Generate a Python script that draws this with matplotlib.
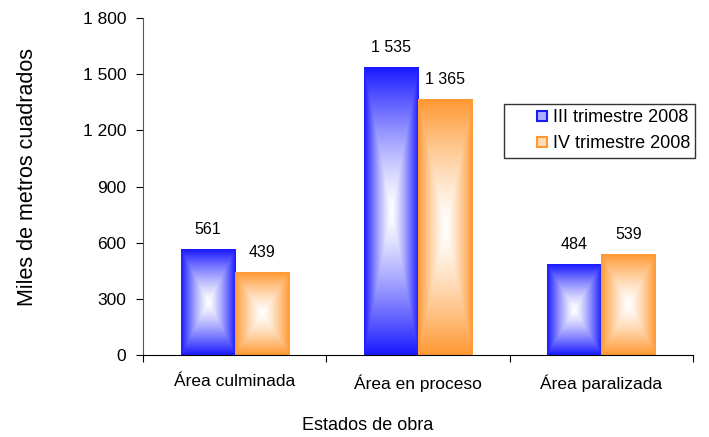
import numpy as np
import matplotlib
matplotlib.use("Agg")
import matplotlib.pyplot as plt
from matplotlib.lines import Line2D
from matplotlib.colors import to_rgb

plt.rcParams['font.family'] = ['Liberation Sans', 'DejaVu Sans']

# data
categories = ['Área culminada', 'Área en proceso', 'Área paralizada']
series_names = ['III trimestre 2008', 'IV trimestre 2008']
iii_2008 = [561, 1535, 484]
iv_2008 = [439, 1365, 539]
colors = ['#1a1aff', '#ff9933']
yticks = [0, 300, 600, 900, 1200, 1500, 1800]
ytick_labels = ['0', '300', '600', '900', '1 200', '1 500', '1 800']


def fmt(v):
    return '{:,}'.format(v).replace(',', ' ')


def box_gradient(color, n=120):
    # rectangular "from centre" gradient: white in the middle, colour at the edges
    u = np.linspace(-1, 1, n)
    uu, vv = np.meshgrid(u, u)
    t = np.maximum(np.abs(uu), np.abs(vv)) ** 1.3
    c = np.array(to_rgb(color))
    img = (1 - t)[..., None] * np.ones(3) + t[..., None] * c
    return img


fig = plt.figure(figsize=(7.09, 4.37), dpi=100)
ax = fig.add_axes([0.2017, 0.1876, 0.7757, 0.7712])

x = np.arange(len(categories))
w = 0.295
for i, (vals, col) in enumerate(zip([iii_2008, iv_2008], colors)):
    bars = ax.bar(x + (i - 0.5) * w, vals, w, color='none', edgecolor='none')
    img = box_gradient(col)
    for b, v in zip(bars, vals):
        bx, by = b.get_x(), b.get_y()
        ax.imshow(img, extent=[bx, bx + b.get_width(), by, by + b.get_height()],
                  aspect='auto', interpolation='bilinear', zorder=2)
        ax.annotate(fmt(v), (bx + b.get_width() / 2, v), xytext=(0, 9),
                    textcoords='offset points', ha='center', va='bottom',
                    fontsize=11.5)

ax.set_xlim(-0.5, 2.5)
ax.set_ylim(0, 1800)

ax.set_yticks(yticks)
ax.set_yticklabels(ytick_labels, fontsize=12.5)
ax.tick_params(axis='y', direction='out', length=5, width=0.8, pad=7)

ax.set_xticks(x)
ax.set_xticklabels(categories, fontsize=12.5)
ax.tick_params(axis='x', which='major', length=0, pad=14)
ax.set_xticks([-0.5, 0.5, 1.5, 2.5], minor=True)
ax.tick_params(axis='x', which='minor', direction='out', length=5, width=0.8)

for s in ['top', 'right']:
    ax.spines[s].set_visible(False)
ax.spines['left'].set_color('#555555')
ax.spines['bottom'].set_color('black')

fig.text(0.039, 0.595, 'Miles de metros cuadrados', rotation=90,
         ha='center', va='center', fontsize=15.5)
fig.text(0.518, 0.027, 'Estados de obra', ha='center', va='center', fontsize=13)

handles = [Line2D([], [], linestyle='none', marker='s', markersize=7,
                  markerfacecolor=(np.array(to_rgb(c)) * 0.35 + 0.65),
                  markeredgecolor=c, markeredgewidth=1.5) for c in colors]
leg = ax.legend(handles, series_names, loc='upper left',
                bbox_to_anchor=(0.656, 0.745), borderaxespad=0, fontsize=13,
                frameon=True, fancybox=False, edgecolor='black',
                handlelength=3.6, handletextpad=-1.2,
                borderpad=0.3, labelspacing=0.5)
leg.get_frame().set_linewidth(1.0)

plt.savefig('out.png', dpi=100)
plt.close()
